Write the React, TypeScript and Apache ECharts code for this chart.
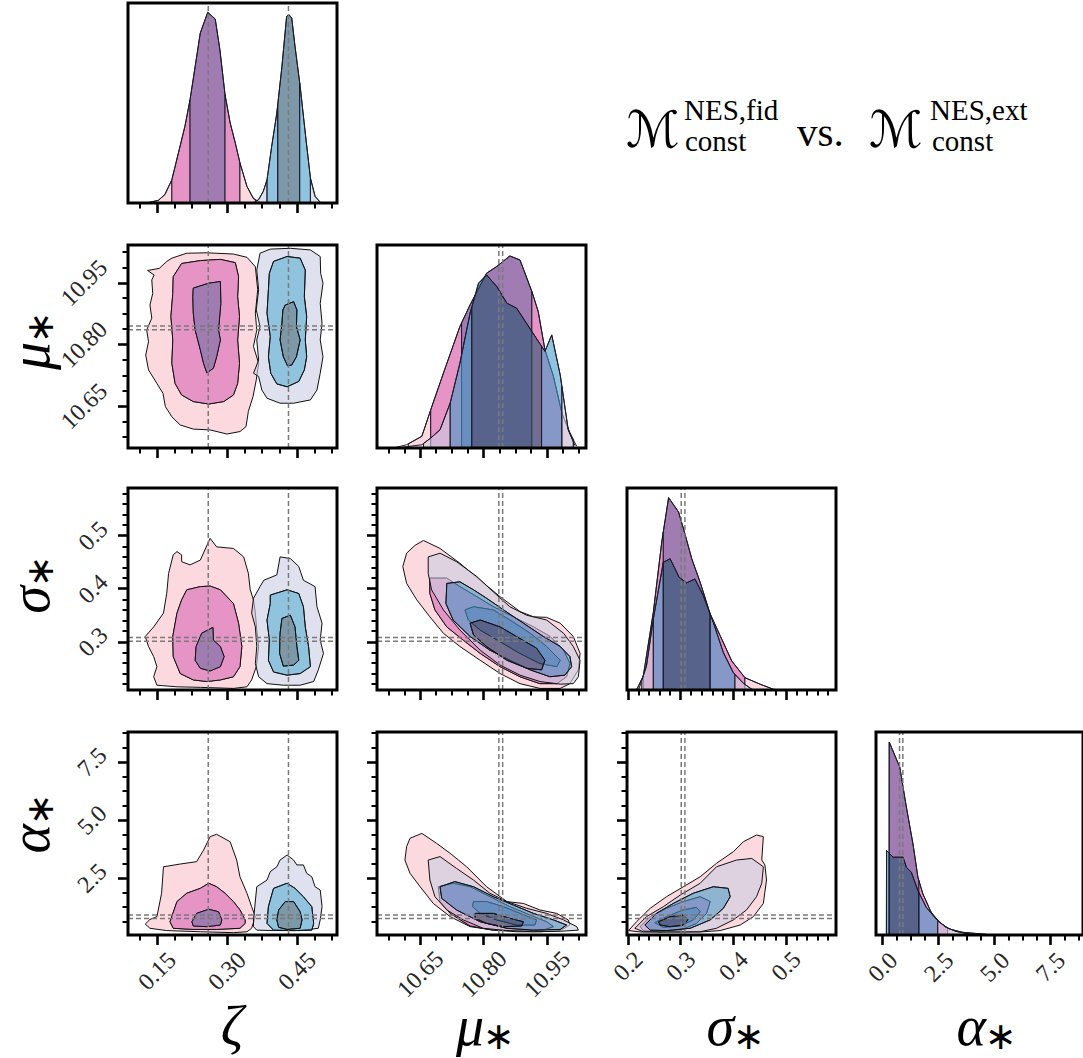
import React, { useEffect, useRef } from "react";
import * as echarts from "echarts";

// ---------------- axis ranges, ticks, labels ----------------
const ZETA_RANGE = [0.088, 0.536];
const MU_RANGE = [10.548, 11.042];
const SIGMA_X_RANGE = [0.198, 0.595];
const SIGMA_Y_RANGE = [0.209, 0.59];
const ALPHA_X_RANGE = [-0.3, 8.95];
const ALPHA_Y_RANGE = [0.04, 8.79];
const DIAG_YMAX = [1.049, 1.057, 1.05, 1.052];

const ZETA_MAJOR = [0.15, 0.3, 0.45];
const ZETA_LABELS = ["0.15", "0.30", "0.45"];
const ZETA_MINOR = [0.1125, 0.1875, 0.225, 0.2625, 0.3375, 0.375, 0.4125, 0.4875, 0.525];
const MU_MAJOR = [10.65, 10.8, 10.95];
const MU_LABELS = ["10.65", "10.80", "10.95"];
const MU_MINOR = [10.575, 10.6125, 10.6875, 10.725, 10.7625, 10.8375, 10.875, 10.9125, 10.9875, 11.025];
const SIGMA_MAJOR = [0.2, 0.3, 0.4, 0.5];
const SIGMA_LABELS = ["0.2", "0.3", "0.4", "0.5"];
const SIGMA_MINOR = [0.22, 0.24, 0.26, 0.28, 0.32, 0.34, 0.36, 0.38, 0.42, 0.44, 0.46, 0.48, 0.52, 0.54, 0.56, 0.58];
const ALPHA_MAJOR = [0, 2.5, 5, 7.5];
const ALPHA_LABELS = ["0.0", "2.5", "5.0", "7.5"];
const ALPHA_MINOR = [0.625, 1.25, 1.875, 3.125, 3.75, 4.375, 5.625, 6.25, 6.875, 8.125, 8.75];

// reference (dashed) lines: [model fid, model ext]
const ZETA_MED = [0.26, 0.432];
const MU_MED = [10.836, 10.845];
const SIGMA_MED = [0.301, 0.308];
const ALPHA_MED = [0.75, 0.9];

// ---------------- 1D marginals (x, relative density, band edges) ----------------
const ZETA_A_X = [0.114, 0.135, 0.153, 0.167, 0.182, 0.196, 0.21, 0.221, 0.232, 0.243, 0.259, 0.275, 0.285, 0.296, 0.307, 0.318, 0.328, 0.343, 0.357, 0.371, 0.382];
const ZETA_A_D = [0, 0.004, 0.014, 0.044, 0.122, 0.262, 0.402, 0.542, 0.717, 0.892, 1.0, 0.965, 0.804, 0.568, 0.42, 0.315, 0.21, 0.087, 0.023, 0.004, 0];
const ZETA_A_BANDS = [0.135, 0.182, 0.221, 0.296, 0.328, 0.361];
const ZETA_B_X = [0.357, 0.368, 0.378, 0.386, 0.396, 0.407, 0.418, 0.428, 0.433, 0.439, 0.446, 0.457, 0.468, 0.479, 0.489, 0.5, 0.511];
const ZETA_B_D = [0, 0.018, 0.061, 0.122, 0.297, 0.472, 0.717, 0.979, 0.988, 0.97, 0.822, 0.612, 0.367, 0.131, 0.035, 0.004, 0];
const ZETA_B_BANDS = [0.361, 0.386, 0.409, 0.456, 0.479, 0.5];

const MU_A_X = [10.587, 10.618, 10.654, 10.675, 10.705, 10.744, 10.768, 10.807, 10.831, 10.862, 10.886, 10.914, 10.929, 10.945, 10.965, 10.985, 11.004, 11.02];
const MU_A_D = [0, 0.017, 0.061, 0.199, 0.39, 0.633, 0.745, 0.91, 0.945, 1.0, 0.979, 0.815, 0.711, 0.511, 0.373, 0.182, 0.078, 0.009];
const MU_A_BANDS = [10.622, 10.675, 10.748, 10.914, 10.985, 11.012];
const MU_B_X = [10.595, 10.654, 10.675, 10.697, 10.721, 10.744, 10.768, 10.788, 10.807, 10.831, 10.855, 10.878, 10.914, 10.945, 10.961, 10.981, 11.0, 11.016];
const MU_B_D = [0, 0.017, 0.052, 0.095, 0.234, 0.442, 0.702, 0.858, 0.901, 0.841, 0.754, 0.728, 0.607, 0.503, 0.589, 0.381, 0.095, 0.012];
const MU_B_BANDS = [10.658, 10.721, 10.772, 10.937, 10.985, 11.012];

const SIGMA_A_X = [0.216, 0.229, 0.248, 0.264, 0.277, 0.296, 0.308, 0.321, 0.337, 0.356, 0.375, 0.397, 0.422, 0.451, 0.476, 0.49];
const SIGMA_A_D = [0, 0.073, 0.404, 0.769, 1.0, 0.925, 0.812, 0.682, 0.56, 0.395, 0.282, 0.151, 0.064, 0.03, 0.004, 0];
const SIGMA_A_BANDS = [0.216, 0.229, 0.267, 0.356, 0.422, 0.476];
const SIGMA_B_X = [0.22, 0.235, 0.248, 0.267, 0.28, 0.297, 0.311, 0.327, 0.343, 0.362, 0.381, 0.4, 0.419, 0.435, 0.445];
const SIGMA_B_D = [0, 0.125, 0.369, 0.664, 0.682, 0.586, 0.557, 0.577, 0.49, 0.351, 0.195, 0.09, 0.035, 0.004, 0];
const SIGMA_B_BANDS = [0.226, 0.248, 0.267, 0.356, 0.403, 0.435];

const ALPHA_A_X = [0.28, 0.29, 0.762, 1.057, 1.352, 1.574, 1.795, 2.164, 2.533, 2.975, 3.565, 4.45, 4.9];
const ALPHA_A_D = [0, 1.0, 0.87, 0.663, 0.472, 0.299, 0.213, 0.118, 0.066, 0.031, 0.014, 0.005, 0];
const ALPHA_A_BANDS = [0.29, 0.29, 0.29, 1.618, 2.901, 4.745];
const ALPHA_B_X = [0.16, 0.172, 0.32, 0.467, 0.91, 1.057, 1.279, 1.574, 1.942, 2.459, 2.828, 3.27, 3.86, 4.2];
const ALPHA_B_D = [0, 0.438, 0.42, 0.403, 0.403, 0.351, 0.325, 0.23, 0.144, 0.074, 0.04, 0.019, 0.005, 0];
const ALPHA_B_BANDS = [0.172, 0.172, 0.29, 1.618, 2.459, 3.86];

// ---------------- 2D credible contours [outer, mid, inner] ----------------
// zeta vs mu
const ZM_A = [
  [[0.182, 11.01], [0.214, 11.022], [0.257, 11.023], [0.314, 11.02], [0.343, 11.012], [0.361, 10.989], [0.366, 10.933], [0.361, 10.876], [0.364, 10.835], [0.357, 10.795], [0.368, 10.754], [0.363, 10.714], [0.356, 10.673], [0.346, 10.637], [0.341, 10.6], [0.328, 10.588], [0.3, 10.582], [0.264, 10.592], [0.228, 10.594], [0.2, 10.604], [0.182, 10.624], [0.168, 10.649], [0.163, 10.681], [0.15, 10.705], [0.132, 10.738], [0.126, 10.774], [0.132, 10.807], [0.128, 10.835], [0.139, 10.864], [0.135, 10.896], [0.141, 10.924], [0.139, 10.957], [0.144, 10.969], [0.13, 10.98], [0.155, 10.985], [0.171, 11.002]],
  [[0.203, 10.997], [0.243, 11.004], [0.286, 11.007], [0.318, 10.999], [0.325, 10.965], [0.323, 10.916], [0.327, 10.868], [0.323, 10.811], [0.327, 10.754], [0.323, 10.705], [0.314, 10.677], [0.293, 10.661], [0.261, 10.655], [0.228, 10.661], [0.203, 10.677], [0.189, 10.705], [0.182, 10.754], [0.184, 10.811], [0.18, 10.868], [0.184, 10.924], [0.185, 10.965]],
  [[0.228, 10.937], [0.261, 10.949], [0.286, 10.953], [0.287, 10.9], [0.282, 10.835], [0.286, 10.811], [0.278, 10.77], [0.271, 10.742], [0.257, 10.731], [0.25, 10.754], [0.243, 10.787], [0.232, 10.835], [0.228, 10.876], [0.227, 10.916]],
];
const ZM_B = [
  [[0.371, 11.022], [0.393, 11.032], [0.436, 11.034], [0.479, 11.03], [0.5, 11.014], [0.501, 10.973], [0.506, 10.949], [0.5, 10.9], [0.504, 10.851], [0.5, 10.811], [0.506, 10.77], [0.5, 10.73], [0.493, 10.689], [0.479, 10.665], [0.443, 10.657], [0.414, 10.657], [0.386, 10.669], [0.375, 10.689], [0.368, 10.722], [0.357, 10.73], [0.368, 10.762], [0.364, 10.811], [0.371, 10.843], [0.363, 10.884], [0.368, 10.933], [0.364, 10.981]],
  [[0.4, 11.002], [0.429, 11.014], [0.457, 11.01], [0.468, 10.981], [0.466, 10.916], [0.471, 10.868], [0.468, 10.811], [0.471, 10.77], [0.466, 10.738], [0.454, 10.71], [0.429, 10.697], [0.407, 10.704], [0.394, 10.73], [0.389, 10.77], [0.393, 10.819], [0.386, 10.876], [0.389, 10.933], [0.391, 10.973]],
  [[0.425, 10.896], [0.443, 10.904], [0.45, 10.884], [0.449, 10.843], [0.457, 10.811], [0.449, 10.77], [0.439, 10.75], [0.43, 10.748], [0.421, 10.77], [0.414, 10.811], [0.418, 10.851], [0.42, 10.884]],
];
// zeta vs sigma
const ZS_A = [
  [[0.193, 0.47], [0.203, 0.464], [0.203, 0.451], [0.221, 0.445], [0.243, 0.454], [0.264, 0.495], [0.278, 0.479], [0.314, 0.476], [0.336, 0.46], [0.346, 0.429], [0.35, 0.398], [0.357, 0.379], [0.361, 0.354], [0.364, 0.322], [0.368, 0.291], [0.363, 0.253], [0.353, 0.228], [0.343, 0.215], [0.314, 0.212], [0.243, 0.214], [0.193, 0.215], [0.15, 0.218], [0.143, 0.234], [0.15, 0.253], [0.143, 0.272], [0.132, 0.291], [0.125, 0.31], [0.143, 0.328], [0.164, 0.354], [0.171, 0.391], [0.175, 0.429], [0.185, 0.464]],
  [[0.214, 0.398], [0.243, 0.404], [0.264, 0.405], [0.286, 0.398], [0.314, 0.372], [0.325, 0.335], [0.332, 0.291], [0.328, 0.253], [0.314, 0.234], [0.286, 0.228], [0.257, 0.225], [0.228, 0.228], [0.2, 0.24], [0.185, 0.272], [0.184, 0.31], [0.193, 0.354], [0.203, 0.379]],
  [[0.246, 0.316], [0.27, 0.327], [0.271, 0.303], [0.286, 0.291], [0.294, 0.272], [0.286, 0.253], [0.264, 0.245], [0.243, 0.25], [0.232, 0.265], [0.234, 0.291]],
];
const ZS_B = [
  [[0.379, 0.416], [0.407, 0.426], [0.414, 0.46], [0.436, 0.457], [0.454, 0.442], [0.464, 0.416], [0.489, 0.404], [0.493, 0.366], [0.504, 0.335], [0.5, 0.303], [0.507, 0.278], [0.496, 0.247], [0.486, 0.225], [0.457, 0.218], [0.421, 0.218], [0.386, 0.221], [0.368, 0.234], [0.361, 0.259], [0.364, 0.291], [0.361, 0.328], [0.353, 0.354], [0.357, 0.382], [0.371, 0.404]],
  [[0.393, 0.388], [0.429, 0.398], [0.454, 0.391], [0.464, 0.366], [0.468, 0.328], [0.475, 0.291], [0.479, 0.253], [0.457, 0.24], [0.429, 0.237], [0.4, 0.243], [0.389, 0.265], [0.391, 0.303], [0.386, 0.341], [0.393, 0.372]],
  [[0.418, 0.344], [0.436, 0.35], [0.446, 0.328], [0.45, 0.291], [0.454, 0.265], [0.443, 0.256], [0.421, 0.254], [0.413, 0.278], [0.414, 0.316]],
];
// zeta vs alpha
const ZA_A = [
  [[0.125, 0.51], [0.135, 0.71], [0.15, 0.83], [0.16, 1.84], [0.164, 2.98], [0.2, 3.1], [0.235, 3.2], [0.25, 3.7], [0.264, 4.28], [0.278, 4.38], [0.307, 4.06], [0.321, 3.27], [0.328, 2.55], [0.343, 1.84], [0.353, 1.26], [0.361, 0.83], [0.353, 0.33], [0.343, 0.18], [0.314, 0.14], [0.243, 0.18], [0.171, 0.23], [0.135, 0.33]],
  [[0.178, 0.61], [0.193, 1.48], [0.214, 1.84], [0.243, 2.05], [0.261, 2.27], [0.278, 2.12], [0.296, 1.84], [0.314, 1.48], [0.328, 1.12], [0.339, 0.69], [0.339, 0.54], [0.328, 0.33], [0.278, 0.28], [0.228, 0.28], [0.185, 0.33]],
  [[0.225, 0.61], [0.235, 0.97], [0.261, 1.15], [0.282, 1.04], [0.289, 0.69], [0.286, 0.47], [0.257, 0.4], [0.228, 0.43]],
];
const ZA_B = [
  [[0.357, 0.69], [0.364, 2.12], [0.386, 2.41], [0.393, 2.77], [0.407, 2.98], [0.414, 3.27], [0.429, 3.49], [0.443, 3.27], [0.45, 3.06], [0.464, 3.06], [0.471, 2.7], [0.482, 2.55], [0.489, 2.12], [0.5, 1.98], [0.504, 1.26], [0.5, 0.69], [0.496, 0.33], [0.457, 0.23], [0.4, 0.23], [0.364, 0.25], [0.357, 0.4]],
  [[0.389, 1.26], [0.4, 2.05], [0.429, 2.27], [0.446, 2.05], [0.464, 1.69], [0.482, 1.26], [0.486, 0.54], [0.482, 0.25], [0.443, 0.23], [0.4, 0.25], [0.386, 0.54]],
  [[0.411, 1.12], [0.425, 1.48], [0.443, 1.48], [0.457, 1.04], [0.461, 0.69], [0.457, 0.33], [0.429, 0.28], [0.411, 0.37], [0.407, 0.69]],
];
// mu vs sigma
const MS_A = [
  [[10.658, 0.491], [10.697, 0.476], [10.744, 0.448], [10.792, 0.416], [10.839, 0.385], [10.886, 0.357], [10.918, 0.347], [10.949, 0.346], [10.981, 0.335], [11.012, 0.31], [11.028, 0.278], [11.024, 0.247], [11.004, 0.221], [10.981, 0.212], [10.933, 0.212], [10.886, 0.221], [10.839, 0.24], [10.792, 0.265], [10.744, 0.291], [10.705, 0.316], [10.673, 0.347], [10.642, 0.379], [10.618, 0.41], [10.609, 0.442], [10.618, 0.467], [10.638, 0.482]],
  [[10.673, 0.42], [10.713, 0.42], [10.744, 0.404], [10.784, 0.385], [10.823, 0.366], [10.87, 0.347], [10.918, 0.328], [10.957, 0.31], [10.989, 0.284], [11.004, 0.259], [10.996, 0.234], [10.973, 0.221], [10.933, 0.221], [10.886, 0.234], [10.839, 0.253], [10.792, 0.278], [10.752, 0.303], [10.713, 0.328], [10.685, 0.36], [10.673, 0.391]],
  [[10.756, 0.36], [10.776, 0.366], [10.823, 0.36], [10.862, 0.341], [10.91, 0.316], [10.949, 0.291], [10.981, 0.265], [10.973, 0.253], [10.933, 0.259], [10.886, 0.278], [10.839, 0.3], [10.792, 0.322], [10.764, 0.341]],
];
const MS_B = [
  [[10.669, 0.46], [10.697, 0.467], [10.736, 0.451], [10.784, 0.423], [10.823, 0.394], [10.862, 0.366], [10.902, 0.35], [10.949, 0.341], [10.989, 0.316], [11.012, 0.291], [11.028, 0.265], [11.024, 0.234], [11.012, 0.221], [10.981, 0.22], [10.933, 0.225], [10.886, 0.237], [10.839, 0.256], [10.792, 0.284], [10.744, 0.322], [10.705, 0.36], [10.677, 0.398], [10.669, 0.429]],
  [[10.713, 0.41], [10.744, 0.413], [10.776, 0.398], [10.807, 0.382], [10.847, 0.36], [10.894, 0.335], [10.941, 0.31], [10.981, 0.291], [11.004, 0.272], [11.008, 0.253], [10.992, 0.237], [10.957, 0.234], [10.91, 0.247], [10.862, 0.265], [10.815, 0.284], [10.768, 0.31], [10.728, 0.341], [10.711, 0.372]],
  [[10.768, 0.335], [10.792, 0.341], [10.839, 0.328], [10.886, 0.306], [10.925, 0.288], [10.945, 0.265], [10.937, 0.247], [10.902, 0.25], [10.855, 0.265], [10.807, 0.291], [10.776, 0.313]],
];
// mu vs alpha
const MA_A = [
  [[10.626, 4.21], [10.654, 4.42], [10.689, 3.99], [10.721, 3.56], [10.76, 2.98], [10.807, 2.12], [10.855, 1.48], [10.894, 1.4], [10.933, 1.12], [10.973, 0.97], [11.0, 0.69], [11.004, 0.47], [10.981, 0.23], [10.933, 0.18], [10.878, 0.18], [10.823, 0.25], [10.768, 0.4], [10.721, 0.83], [10.681, 1.4], [10.65, 2.12], [10.626, 2.7], [10.614, 3.27], [10.618, 3.85]],
  [[10.693, 2.12], [10.728, 2.27], [10.768, 2.12], [10.815, 1.69], [10.862, 1.26], [10.91, 0.9], [10.949, 0.61], [10.965, 0.4], [10.941, 0.25], [10.886, 0.23], [10.823, 0.25], [10.768, 0.43], [10.721, 0.97], [10.697, 1.48]],
  [[10.776, 1.48], [10.807, 1.48], [10.847, 1.26], [10.886, 0.97], [10.925, 0.69], [10.921, 0.47], [10.878, 0.47], [10.831, 0.69], [10.792, 0.97], [10.774, 1.26]],
];
const MA_B = [
  [[10.669, 3.27], [10.697, 3.42], [10.736, 2.91], [10.776, 2.41], [10.815, 1.84], [10.855, 1.48], [10.902, 1.19], [10.949, 0.97], [10.989, 0.69], [11.02, 0.4], [11.024, 0.25], [10.981, 0.2], [10.918, 0.18], [10.855, 0.23], [10.799, 0.33], [10.752, 0.69], [10.713, 1.12], [10.685, 1.69], [10.673, 2.41]],
  [[10.697, 2.12], [10.732, 2.34], [10.776, 2.12], [10.823, 1.69], [10.87, 1.33], [10.918, 0.97], [10.965, 0.69], [10.996, 0.47], [10.981, 0.28], [10.918, 0.25], [10.855, 0.33], [10.792, 0.61], [10.736, 1.12], [10.701, 1.62]],
  [[10.78, 0.97], [10.823, 0.97], [10.862, 0.76], [10.894, 0.61], [10.89, 0.43], [10.847, 0.4], [10.807, 0.54], [10.78, 0.76]],
];
// sigma vs alpha
const SA_A = [
  [[0.201, 0.23], [0.216, 0.61], [0.242, 1.19], [0.273, 1.69], [0.305, 2.12], [0.337, 2.55], [0.368, 3.13], [0.4, 3.63], [0.419, 4.06], [0.444, 4.35], [0.457, 4.28], [0.454, 3.27], [0.46, 3.06], [0.463, 2.41], [0.457, 1.4], [0.438, 0.83], [0.413, 0.47], [0.375, 0.23], [0.337, 0.17], [0.273, 0.17], [0.223, 0.17]],
  [[0.223, 0.4], [0.242, 0.83], [0.273, 1.19], [0.305, 1.48], [0.337, 1.69], [0.356, 1.48], [0.349, 0.97], [0.33, 0.54], [0.299, 0.25], [0.261, 0.18], [0.229, 0.23]],
  [[0.251, 0.57], [0.273, 0.83], [0.305, 1.12], [0.33, 1.23], [0.337, 1.04], [0.324, 0.69], [0.299, 0.43], [0.267, 0.37]],
];
const SA_B = [
  [[0.213, 0.33], [0.235, 0.83], [0.267, 1.26], [0.299, 1.76], [0.337, 2.27], [0.368, 2.98], [0.406, 3.27], [0.435, 3.34], [0.457, 2.98], [0.454, 2.27], [0.444, 1.69], [0.425, 1.12], [0.4, 0.69], [0.368, 0.33], [0.337, 0.18], [0.273, 0.17], [0.229, 0.18]],
  [[0.232, 0.47], [0.254, 0.97], [0.286, 1.4], [0.324, 1.84], [0.362, 2.12], [0.39, 2.05], [0.394, 1.69], [0.381, 1.19], [0.356, 0.69], [0.318, 0.33], [0.273, 0.23], [0.242, 0.25]],
  [[0.258, 0.61], [0.28, 0.83], [0.305, 0.9], [0.314, 0.69], [0.305, 0.47], [0.28, 0.4], [0.261, 0.47]],
];

// ---------------- styling & layout ----------------
const A_COLORS = ["#fcd9df", "#e693c6", "#a07cb3"];
const B_COLORS = ["rgba(202,205,227,0.6)", "rgba(68,155,200,0.6)", "rgba(38,83,110,0.6)"];
const COL_LEFT = [128, 377, 627, 876];
const ROW_TOP = [3, 245, 488, 732];
const ROW_H = [200, 203, 202, 203];
const PANEL_W = 209;
const TICK_FONT = '"Liberation Serif", "DejaVu Serif", serif';

type VarDef = { xr: number[]; yr: number[]; major: number[]; labels: string[]; minor: number[]; med: number[]; xm: number; ym: number };
const VARS: VarDef[] = [
  { xr: ZETA_RANGE, yr: ZETA_RANGE, major: ZETA_MAJOR, labels: ZETA_LABELS, minor: ZETA_MINOR, med: ZETA_MED, xm: 36, ym: 36 },
  { xr: MU_RANGE, yr: MU_RANGE, major: MU_MAJOR, labels: MU_LABELS, minor: MU_MINOR, med: MU_MED, xm: 39, ym: 44 },
  { xr: SIGMA_X_RANGE, yr: SIGMA_Y_RANGE, major: SIGMA_MAJOR, labels: SIGMA_LABELS, minor: SIGMA_MINOR, med: SIGMA_MED, xm: 31, ym: 35 },
  { xr: ALPHA_X_RANGE, yr: ALPHA_Y_RANGE, major: ALPHA_MAJOR, labels: ALPHA_LABELS, minor: ALPHA_MINOR, med: ALPHA_MED, xm: 32, ym: 36 },
];
const DIAG = [
  { A: [ZETA_A_X, ZETA_A_D, ZETA_A_BANDS], B: [ZETA_B_X, ZETA_B_D, ZETA_B_BANDS] },
  { A: [MU_A_X, MU_A_D, MU_A_BANDS], B: [MU_B_X, MU_B_D, MU_B_BANDS] },
  { A: [SIGMA_A_X, SIGMA_A_D, SIGMA_A_BANDS], B: [SIGMA_B_X, SIGMA_B_D, SIGMA_B_BANDS] },
  { A: [ALPHA_A_X, ALPHA_A_D, ALPHA_A_BANDS], B: [ALPHA_B_X, ALPHA_B_D, ALPHA_B_BANDS] },
];
const PAIRS: { row: number; col: number; A: number[][][]; B: number[][][] }[] = [
  { row: 1, col: 0, A: ZM_A, B: ZM_B },
  { row: 2, col: 0, A: ZS_A, B: ZS_B },
  { row: 3, col: 0, A: ZA_A, B: ZA_B },
  { row: 2, col: 1, A: MS_A, B: MS_B },
  { row: 3, col: 1, A: MA_A, B: MA_B },
  { row: 3, col: 2, A: SA_A, B: SA_B },
];

// ---------------- helpers ----------------
function interp(xs: number[], ds: number[], x: number) {
  if (x <= xs[0]) return ds[0];
  for (let i = 0; i < xs.length - 1; i++) {
    if (x >= xs[i] && x <= xs[i + 1]) {
      const t = xs[i + 1] === xs[i] ? 1 : (x - xs[i]) / (xs[i + 1] - xs[i]);
      return ds[i] + t * (ds[i + 1] - ds[i]);
    }
  }
  return ds[ds.length - 1];
}
function bandPoly(xs: number[], ds: number[], lo: number, hi: number) {
  const pts: number[][] = [[lo, 0], [lo, interp(xs, ds, lo)]];
  xs.forEach((x, i) => {
    if (x > lo && x < hi) pts.push([x, ds[i]]);
  });
  pts.push([hi, interp(xs, ds, hi)], [hi, 0]);
  return pts;
}
function signedArea(p: number[][]) {
  let s = 0;
  for (let i = 0; i < p.length; i++) {
    const a = p[i], b = p[(i + 1) % p.length];
    s += a[0] * b[1] - b[0] * a[1];
  }
  return s / 2;
}
function orient(p: number[][], sign: number) {
  return Math.sign(signedArea(p)) === sign ? p : p.slice().reverse();
}
function toD(p: number[][]) {
  return "M" + p.map((q) => q[0].toFixed(2) + " " + q[1].toFixed(2)).join(" L") + " Z";
}
function labelOf(v: VarDef, val: number) {
  const i = v.major.findIndex((m) => Math.abs(m - val) < 1e-6);
  return i >= 0 ? v.labels[i] : "";
}

function buildOption() {
  const grids: any[] = [];
  const xAxes: any[] = [];
  const yAxes: any[] = [];
  const series: any[] = [];
  const dashStyle = { color: "#7a7a7a", width: 1.5, type: [5, 3] };

  const majorTick = (vals: number[]) => ({ show: true, length: 10, inside: false, customValues: vals, lineStyle: { color: "#000", width: 2.6 } });
  const minorTick = (vals: number[]) => ({ show: true, length: 5.5, inside: false, customValues: vals, lineStyle: { color: "#000", width: 2 } });
  const labelStyle = (v: VarDef, show: boolean, margin: number) => ({
    show,
    customValues: v.major,
    formatter: (val: number) => labelOf(v, val),
    rotate: 45,
    align: "center",
    verticalAlign: "middle",
    margin,
    fontFamily: TICK_FONT,
    fontSize: 24,
    color: "#262626",
  });

  for (let row = 0; row < 4; row++) {
    for (let col = 0; col <= row; col++) {
      const g = grids.length;
      grids.push({
        left: COL_LEFT[col], top: ROW_TOP[row], width: PANEL_W, height: ROW_H[row],
        show: true, borderColor: "#000", borderWidth: 3, backgroundColor: "rgba(0,0,0,0)", z: 20,
      });
      const xv = VARS[col];
      const xi = xAxes.length;
      xAxes.push({
        type: "value", gridIndex: g, position: "bottom", min: xv.xr[0], max: xv.xr[1],
        axisLine: { show: false, onZero: false }, splitLine: { show: false },
        axisTick: majorTick(xv.major), axisLabel: labelStyle(xv, row === 3, xv.xm),
      });
      xAxes.push({
        type: "value", gridIndex: g, position: "bottom", min: xv.xr[0], max: xv.xr[1],
        axisLine: { show: false, onZero: false }, splitLine: { show: false },
        axisTick: minorTick(xv.minor), axisLabel: { show: false },
      });
      const yi = yAxes.length;
      if (row === col) {
        const ymax = DIAG_YMAX[col];
        yAxes.push({ type: "value", gridIndex: g, min: 0, max: ymax, show: false, axisLine: { onZero: false } });
        const dg = DIAG[col];
        (["A", "B"] as const).forEach((m, mi) => {
          const [xs, ds, bands] = (dg as any)[m] as number[][];
          const cols = m === "A" ? A_COLORS : B_COLORS;
          const bandColors = [cols[0], cols[1], cols[2], cols[1], cols[0]];
          series.push({
            type: "custom", xAxisIndex: xi, yAxisIndex: yi, z: 2 + mi * 2, silent: true, clip: true,
            data: [0, 1, 2, 3, 4].map((k) => [bands[k], 0, k]),
            renderItem: (params: any, api: any) => {
              const k = params.dataIndex;
              const lo = bands[k], hi = bands[k + 1];
              if (!(hi > lo)) return { type: "group", children: [] };
              const pts = bandPoly(xs, ds, lo, hi).map((p) => api.coord(p));
              return { type: "polygon", shape: { points: pts }, style: { fill: bandColors[k], stroke: "#1d1a2a", lineWidth: 1 } };
            },
          });
          series.push({
            type: "line", xAxisIndex: xi, yAxisIndex: yi, z: 3 + mi * 2, silent: true, symbol: "none",
            data: xs.map((x, i) => [x, ds[i]]),
            lineStyle: { color: "#1d1a2a", width: 1 },
          });
        });
        xv.med.forEach((mv) => {
          series.push({
            type: "line", xAxisIndex: xi, yAxisIndex: yi, z: 10, silent: true, symbol: "none",
            data: [[mv, 0], [mv, ymax]], lineStyle: dashStyle,
          });
        });
      } else {
        const yv = VARS[row];
        yAxes.push({
          type: "value", gridIndex: g, position: "left", min: yv.yr[0], max: yv.yr[1],
          axisLine: { show: false, onZero: false }, splitLine: { show: false },
          axisTick: majorTick(yv.major), axisLabel: labelStyle(yv, col === 0, yv.ym),
        });
        yAxes.push({
          type: "value", gridIndex: g, position: "left", min: yv.yr[0], max: yv.yr[1],
          axisLine: { show: false, onZero: false }, splitLine: { show: false },
          axisTick: minorTick(yv.minor), axisLabel: { show: false },
        });
        const pair = PAIRS.find((p) => p.row === row && p.col === col)!;
        (["A", "B"] as const).forEach((m, mi) => {
          const levels = pair[m];
          const cols = m === "A" ? A_COLORS : B_COLORS;
          series.push({
            type: "custom", xAxisIndex: xi, yAxisIndex: yi, z: 2 + mi, silent: true, clip: true,
            data: levels.map((poly, i) => [poly[0][0], poly[0][1], i]),
            renderItem: (params: any, api: any) => {
              const i = params.dataIndex;
              const outer = levels[i].map((p) => api.coord(p));
              let d = toD(orient(outer, 1));
              if (i < levels.length - 1) {
                const inner = levels[i + 1].map((p) => api.coord(p));
                d += " " + toD(orient(inner, -1));
              }
              return { type: "path", shape: { pathData: d }, style: { fill: cols[i], stroke: "#111", lineWidth: 1 } };
            },
          });
        });
        xv.med.forEach((mv) => {
          series.push({
            type: "line", xAxisIndex: xi, yAxisIndex: yi, z: 10, silent: true, symbol: "none",
            data: [[mv, yv.yr[0]], [mv, yv.yr[1]]], lineStyle: dashStyle,
          });
        });
        yv.med.forEach((mv) => {
          series.push({
            type: "line", xAxisIndex: xi, yAxisIndex: yi, z: 10, silent: true, symbol: "none",
            data: [[xv.xr[0], mv], [xv.xr[1], mv]], lineStyle: dashStyle,
          });
        });
      }
    }
  }

  const greek = 'italic 56px "Liberation Serif", "DejaVu Serif", serif';
  const star = '38px "DejaVu Sans", sans-serif';
  const txt = (text: string, x: number, y: number, font: string, align = "left", valign = "middle") => ({
    type: "text", x, y, silent: true,
    style: { text, font, fill: "#000", textAlign: align, textVerticalAlign: valign, align, verticalAlign: valign },
  });
  const nameGroup = (letter: string, cx: number, cy: number, rot: number, split: number) => ({
    type: "group", x: cx, y: cy, rotation: rot, silent: true,
    children: [txt(letter, split, -4, greek, "right"), txt("∗", split - 1, 6, star, "left")],
  });
  const serif = (px: number) => `${px}px "Liberation Serif", "DejaVu Serif", serif`;
  const script = '50px "DejaVu Sans", "DejaVu Serif", sans-serif';

  const graphic = [
    txt("ζ", 232, 1026, greek, "center"),
    nameGroup("μ", 480, 1030, 0, 4),
    nameGroup("σ", 730, 1030, 0, 4),
    nameGroup("α", 978, 1030, 0, 8),
    nameGroup("μ", 34, 346, Math.PI / 2, 4),
    nameGroup("σ", 34, 590, Math.PI / 2, 4),
    nameGroup("α", 34, 832, Math.PI / 2, 8),
    txt("ℳ", 626, 130, script),
    txt("NES,fid", 684, 110, serif(29)),
    txt("const", 685, 141, serif(29)),
    txt("vs.", 797, 132, serif(41)),
    txt("ℳ", 869, 130, script),
    txt("NES,ext", 930, 110, serif(29)),
    txt("const", 932, 141, serif(29)),
  ];

  return {
    animation: false,
    backgroundColor: "#ffffff",
    grid: grids,
    xAxis: xAxes,
    yAxis: yAxes,
    series,
    graphic,
  };
}

export default function App() {
  const ref = useRef<HTMLDivElement>(null);
  useEffect(() => {
    if (!ref.current) return;
    const chart = echarts.init(ref.current, undefined, { renderer: "svg" });
    chart.setOption(buildOption() as any);
    return () => chart.dispose();
  }, []);
  return <div ref={ref} style={{ position: "absolute", left: 0, top: 0, width: 1083, height: 1058 }} />;
}
